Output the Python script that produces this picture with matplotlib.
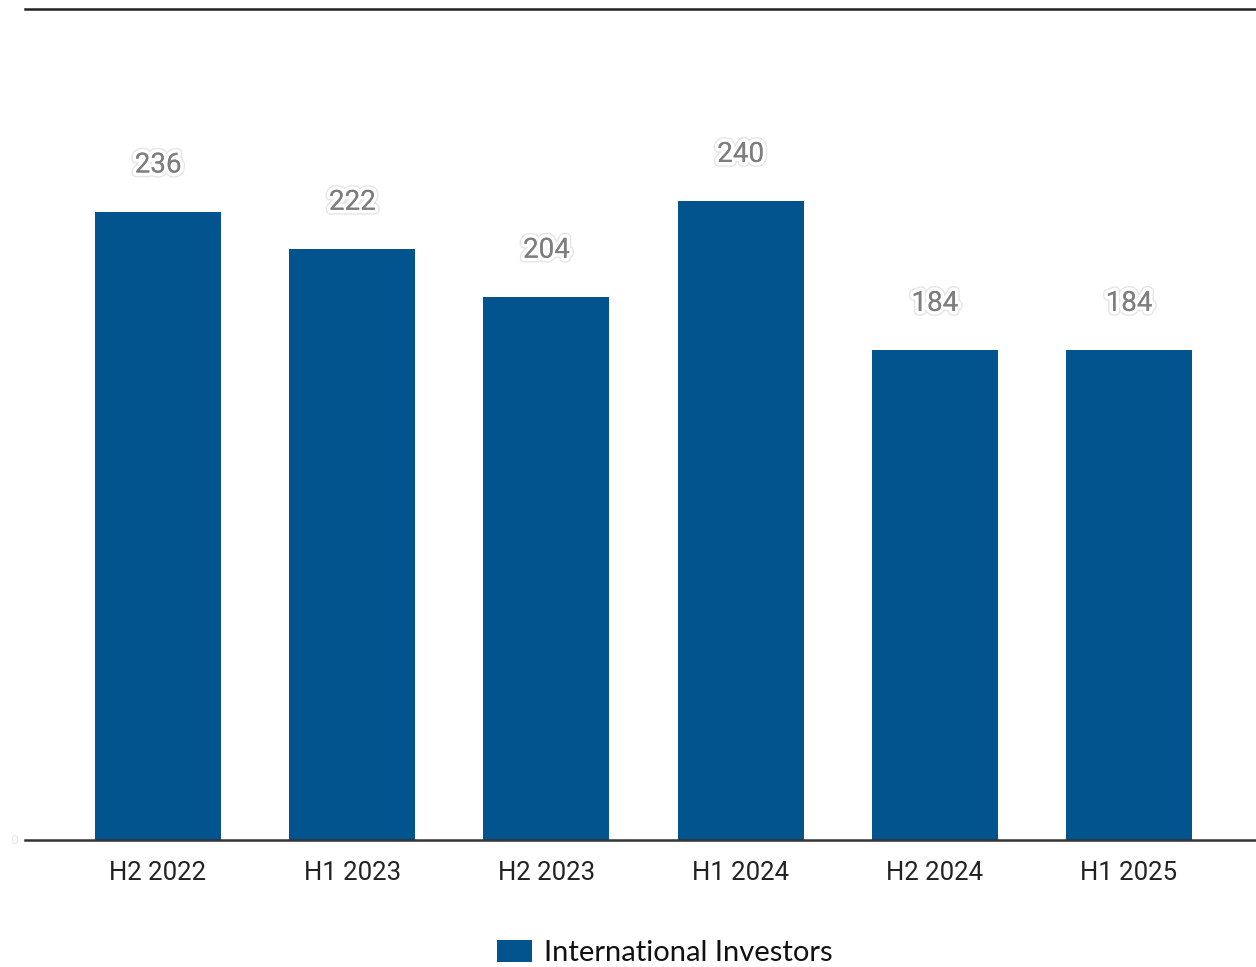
import matplotlib
matplotlib.use('Agg')
import matplotlib.pyplot as plt
import matplotlib.patheffects as pe
import numpy as np

periods = ['H2 2022', 'H1 2023', 'H2 2023', 'H1 2024', 'H2 2024', 'H1 2025']
investors = [236, 222, 204, 240, 184, 184]

bar_color = '#02548f'

fig = plt.figure(figsize=(12.56, 9.67), dpi=100)
ax = fig.add_axes([25 / 1256, 127 / 967, 1231 / 1256, 831 / 967])

x = np.arange(len(periods))
ax.bar(x, investors, width=0.649, color=bar_color, label='International Investors')

effects = [pe.withStroke(linewidth=7, foreground='#e6e6e6'),
           pe.withStroke(linewidth=5, foreground='white'),
           pe.Normal()]
for xi, v in zip(x, investors):
    ax.annotate(str(v), (xi, v), xytext=(0, 47), textcoords='offset pixels',
                ha='center', va='center', fontsize=20, family='Roboto',
                color='#7e7e7e', path_effects=effects)

ax.set_xlim(-0.685, 5.654)
ax.set_ylim(0, 312.3)
ax.set_xticks(x)
ax.set_xticklabels(periods, fontsize=18.5, family='Roboto', color='#222222')
ax.tick_params(axis='x', length=0, pad=15)
ax.set_yticks([])

for s in ['left', 'right']:
    ax.spines[s].set_visible(False)
ax.spines['bottom'].set_color('#333333')
ax.spines['bottom'].set_linewidth(1.8)
ax.spines['top'].set_color('#222222')
ax.spines['top'].set_linewidth(1.8)

fig.text(14 / 1256, 127 / 967, '0', fontsize=9, color='#e6e6e6', ha='center', va='center')

leg = fig.legend(handles=[plt.Rectangle((0, 0), 1, 1, fc=bar_color)],
                 labels=['International Investors'],
                 loc='center', bbox_to_anchor=(665 / 1256, 14 / 967),
                 frameon=False, handlelength=1.2, handleheight=0.75,
                 handletextpad=0.4, borderpad=0.2, prop={'family': 'Lato', 'size': 21})
for t in leg.get_texts():
    t.set_color('#111111')

fig.savefig('out.png', dpi=100)
